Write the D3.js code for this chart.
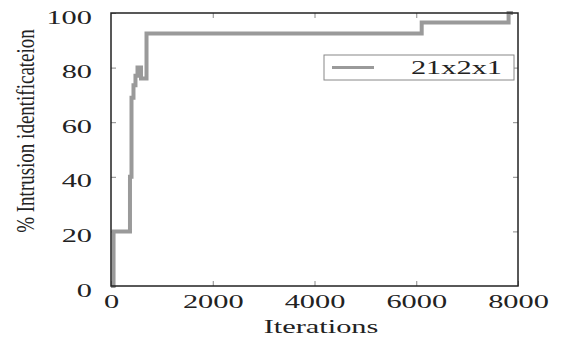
<!DOCTYPE html>
<meta charset="utf-8">
<style>
body { margin: 0; background: #fff; }
text { font-family: "Liberation Serif", "Times New Roman", serif; fill: #222; }
.tick line { stroke: #888; stroke-width: 1; }
.domain { display: none; }
</style>
<svg width="562" height="338"></svg>
<script src="https://cdn.jsdelivr.net/npm/d3@7"></script>
<script>

// step data (step-after)
var iterations = [0, 50, 373, 403, 442, 481, 521, 590, 698, 6107, 7815, 7900]
var detection  = [0, 20, 40, 69, 73.5, 77, 80, 76, 92.5, 96.5, 100, 100]
var xTicks = [0, 2000, 4000, 6000, 8000]
var yTicks = [0, 20, 40, 60, 80, 100]
var seriesName = "21x2x1"

var svg = d3.select("svg")
var plotL = 111, plotR = 518, plotT = 13, plotB = 286

var x = d3.scaleLinear().domain([0, 8000]).range([plotL, plotR])
var y = d3.scaleLinear().domain([0, 100]).range([plotB, plotT])

// axes with inward ticks
var gx = svg.append("g")
    .attr("transform", "translate(0," + plotB + ")")
    .call(d3.axisBottom(x).tickValues(xTicks).tickSize(-5).tickFormat(d3.format("d")))
gx.selectAll("text")
    .attr("y", 0).attr("dy", 0)
    .attr("transform", "translate(0,22) scale(1.6,1)")
    .style("font-size", "19px")
    .attr("text-anchor", "middle")

var gy = svg.append("g")
    .attr("transform", "translate(" + plotL + ",0)")
    .call(d3.axisLeft(y).tickValues(yTicks).tickSize(-5))
gy.selectAll("text")
    .attr("x", 0).attr("dy", 0)
    .attr("transform", "translate(-19,10) scale(1.6,1)")
    .style("font-size", "19px")
    .attr("text-anchor", "end")

// mirrored ticks top/right
svg.append("g")
    .attr("transform", "translate(0," + plotT + ")")
    .call(d3.axisTop(x).tickValues(xTicks.slice(1, -1)).tickSize(-5).tickFormat(""))
svg.append("g")
    .attr("transform", "translate(" + plotR + ",0)")
    .call(d3.axisRight(y).tickValues(yTicks.slice(1, -1)).tickSize(-5).tickFormat(""))

var line = d3.line()
    .x(function(d, i) { return x(iterations[i]); })
    .y(function(d) { return y(d); })
    .curve(d3.curveStepAfter)

svg.append("path")
    .datum(detection)
    .attr("d", line)
    .attr("fill", "none")
    .attr("stroke", "#9a9a9a")
    .attr("stroke-width", 4)

// frame
svg.append("rect")
    .attr("x", plotL).attr("y", plotT)
    .attr("width", plotR - plotL).attr("height", plotB - plotT)
    .attr("fill", "none")
    .attr("stroke", "#222")
    .attr("stroke-width", 1.5)

// legend
var lg = svg.append("g")
lg.append("rect")
    .attr("x", 324).attr("y", 55).attr("width", 190).attr("height", 25)
    .attr("fill", "#fff").attr("stroke", "#888").attr("stroke-width", 1)
lg.append("line")
    .attr("x1", 332).attr("x2", 374).attr("y1", 67.5).attr("y2", 67.5)
    .attr("stroke", "#9a9a9a").attr("stroke-width", 3)
lg.append("text")
    .attr("transform", "translate(502,74) scale(1.6,1)")
    .attr("text-anchor", "end")
    .style("font-size", "19px")
    .text(seriesName)

// axis titles
svg.append("text")
    .attr("transform", "translate(321,333) scale(1.6,1)")
    .attr("text-anchor", "middle")
    .style("font-size", "19px")
    .text("Iterations")

svg.append("text")
    .attr("transform", "translate(34,131) scale(1.35,1) rotate(-90)")
    .attr("text-anchor", "middle")
    .style("font-size", "19px")
    .text("% Intrusion identificateion")

</script>
